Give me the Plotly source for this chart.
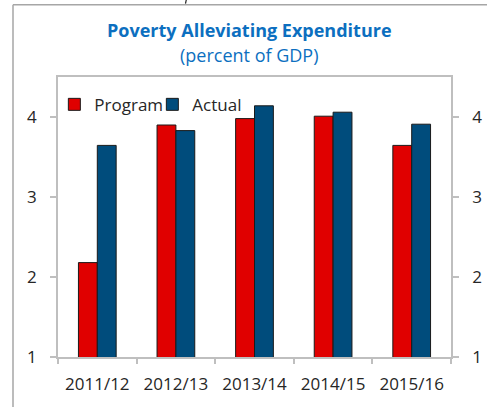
import plotly.graph_objects as go

categories = ["2011/12", "2012/13", "2013/14", "2014/15", "2015/16"]
program = [2.18, 3.90, 3.98, 4.01, 3.645]
actual = [3.645, 3.83, 4.14, 4.06, 3.91]
y_ticks = [1, 2, 3, 4]

RED = "#E00000"
BLUE = "#004C7C"
AXIS = "#BFBFBF"
TXT = "#262626"
FONT = "Open Sans"

fig = go.Figure()
fig.add_trace(go.Bar(name="Program", x=categories, y=program, marker=dict(color=RED, line=dict(color="#1a1a1a", width=1))))
fig.add_trace(go.Bar(name="Actual", x=categories, y=actual, marker=dict(color=BLUE, line=dict(color="#1a1a1a", width=1))))
# invisible trace to activate the right-hand axis
fig.add_trace(go.Scatter(x=categories, y=actual, yaxis="y2", mode="markers", marker=dict(opacity=0), showlegend=False, hoverinfo="skip"))

yax = dict(range=[1, 4.5], tickvals=y_ticks, showgrid=False, zeroline=False, showline=True, linecolor=AXIS, linewidth=1.5,
           ticks="outside", ticklen=6, tickcolor=AXIS, tickwidth=1.5, tickfont=dict(size=17, color=TXT, family=FONT),
           ticklabelstandoff=10, automargin=False)

fig.update_layout(
    width=487, height=407,
    margin=dict(l=58, r=36, t=77, b=50, autoexpand=False),
    plot_bgcolor="white", paper_bgcolor="white",
    barmode="group", bargap=0.52, bargroupgap=0,
    font=dict(family=FONT, color=TXT),
    xaxis=dict(showgrid=False, showline=True, linecolor=AXIS, linewidth=1.5, mirror=True,
               ticks="outside", tickson="boundaries", ticklen=5, tickcolor=AXIS, tickwidth=1.5,
               tickfont=dict(size=17, color=TXT, family=FONT), ticklabelstandoff=11, automargin=False),
    yaxis=dict(**yax, side="left"),
    yaxis2=dict(**yax, side="right", overlaying="y"),
    legend=dict(orientation="h", x=-0.0093, xanchor="left", y=0.965, yanchor="top", bgcolor="rgba(0,0,0,0)",
                font=dict(size=17, color=TXT, family=FONT), itemwidth=30, traceorder="normal",
                entrywidth=53, entrywidthmode="pixels"),
    showlegend=True,
    annotations=[
        dict(text="<b>Poverty Alleviating Expenditure</b>", xref="paper", yref="paper", x=(249 - 58) / 393, y=(357.3 - 30) / 280,
             xanchor="center", yanchor="middle", showarrow=False, font=dict(size=18, color="#0C6FC0", family=FONT)),
        dict(text="(percent of GDP)", xref="paper", yref="paper", x=(249 - 58) / 393, y=(357.3 - 55) / 280,
             xanchor="center", yanchor="middle", showarrow=False, font=dict(size=18, color="#0C6FC0", family=FONT)),
    ],
    shapes=[
        dict(type="line", xref="paper", yref="paper", x0=(13 - 58) / 393, x1=(13 - 58) / 393, y0=(357.3 - 5) / 280, y1=(357.3 - 410) / 280,
             line=dict(color="#A6A6A6", width=1.5)),
        dict(type="line", xref="paper", yref="paper", x0=(13 - 58) / 393, x1=(490 - 58) / 393, y0=(357.3 - 5) / 280, y1=(357.3 - 5) / 280,
             line=dict(color="#A6A6A6", width=1.5)),
        dict(type="line", xref="paper", yref="paper", x0=(185.5 - 58) / 393, x1=(186.5 - 58) / 393, y0=(357.3 - 4) / 280, y1=(357.3 + 1) / 280,
             line=dict(color="#222222", width=1.2)),
    ],
)

fig.write_html("out.html", config={"displayModeBar": False},
               post_script="document.body.style.margin='0';document.body.style.overflow='hidden';")
